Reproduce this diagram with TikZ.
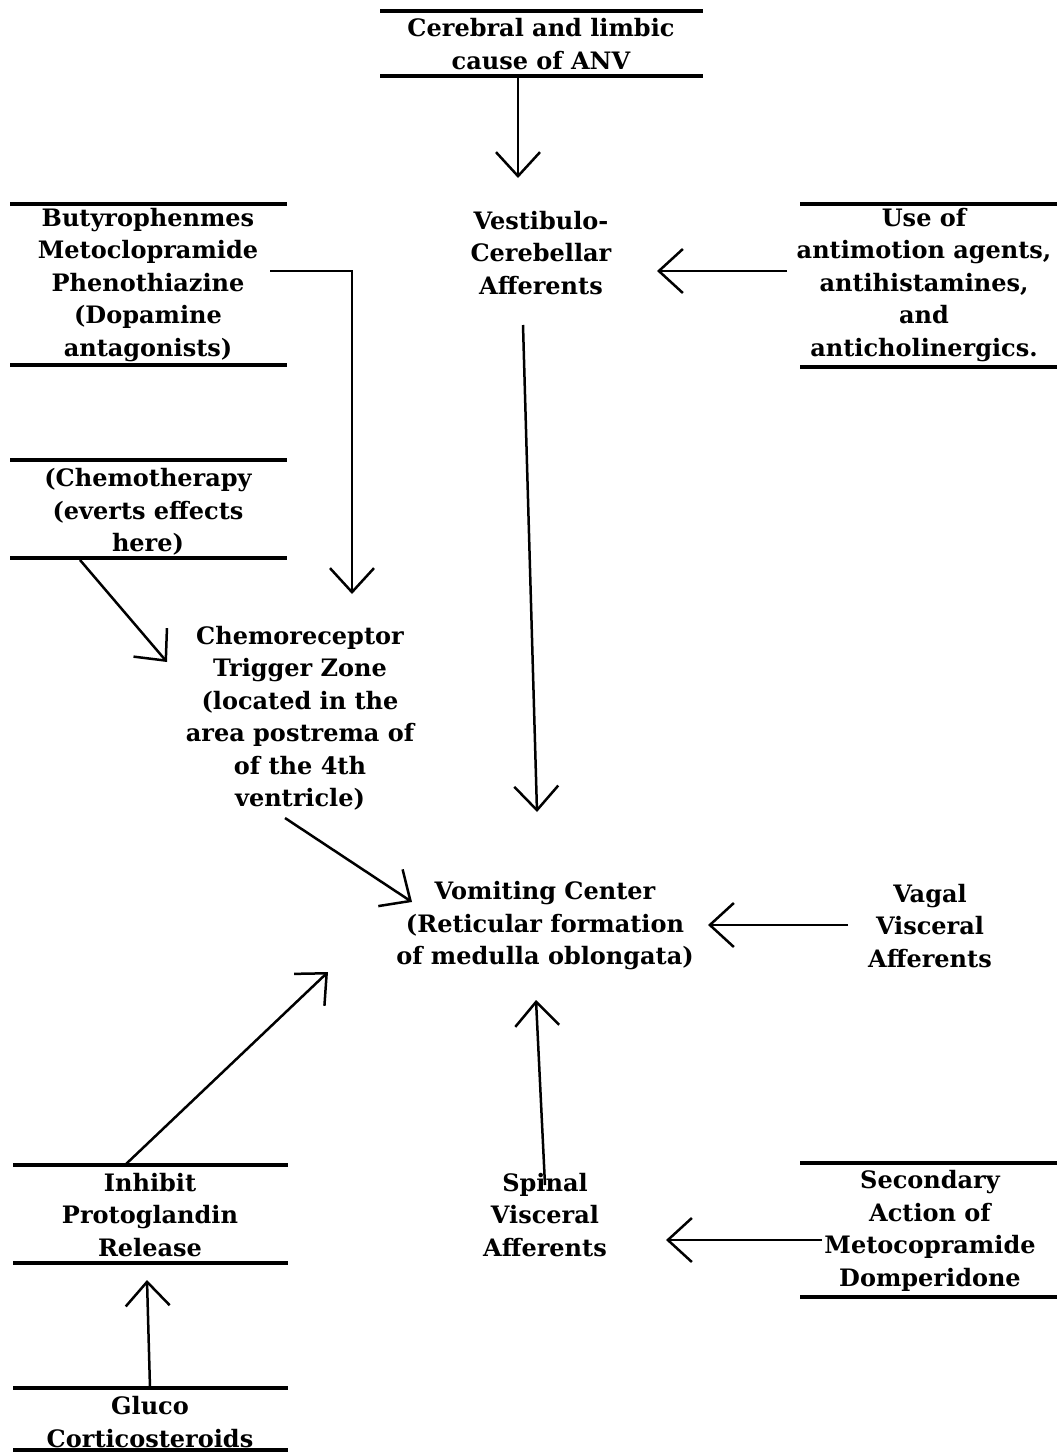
\documentclass[tikz,border=0pt]{standalone}
\usepackage{fontspec}
\setmainfont{DejaVu Serif}
\usetikzlibrary{arrows.meta}
\begin{document}
\begin{tikzpicture}[x=1pt,y=-1pt,
  lbl/.style={align=center, font=\fontsize{24}{32.5}\selectfont\bfseries, inner sep=0pt},
  rule/.style={line width=3.2pt},
  conn/.style={line width=2.5pt, -{Straight Barb[length=24pt,width=44pt,line width=2.5pt]}}]
\useasboundingbox (0,0) rectangle (1057,1453);

% text nodes
\node[lbl] (cer) at (541,44) {Cerebral and limbic\\cause of ANV};
\node[lbl] (vest) at (541,253) {Vestibulo-\\Cerebellar\\Afferents};
\node[lbl] (buty) at (148,285) {Butyrophenmes\\Metoclopramide\\Phenothiazine\\(Dopamine\\antagonists)};
\node[lbl] (chemo) at (148,512) {(Chemotherapy\\(everts effects\\here)};
\node[lbl] (use) at (924,285) {Use of\\antimotion agents,\\antihistamines,\\and\\anticholinergics.};
\node[lbl] (ctz) at (300,718) {Chemoreceptor\\Trigger Zone\\(located in the\\area postrema of\\of the 4th\\ventricle)};
\node[lbl] (vc) at (545,926) {Vomiting Center\\(Reticular formation\\of medulla oblongata)};
\node[lbl] (vagal) at (930,926) {Vagal\\Visceral\\Afferents};
\node[lbl] (inhibit) at (150,1215) {Inhibit\\Protoglandin\\Release};
\node[lbl] (spinal) at (545,1215) {Spinal\\Visceral\\Afferents};
\node[lbl] (secondary) at (930,1231) {Secondary\\Action of\\Metocopramide\\Domperidone};
\node[lbl] (gluco) at (150,1422) {Gluco\\Corticosteroids};

% rules of the boxed items
\draw[rule] (380,11) -- (703,11) (380,76) -- (703,76);
\draw[rule] (10,204) -- (287,204) (10,365) -- (287,365);
\draw[rule] (10,460) -- (287,460) (10,558) -- (287,558);
\draw[rule] (800,204) -- (1057,204) (800,367) -- (1057,367);
\draw[rule] (13,1165) -- (288,1165) (13,1263) -- (288,1263);
\draw[rule] (13,1388) -- (288,1388) (13,1450) -- (288,1450);
\draw[rule] (800,1163) -- (1057,1163) (800,1297) -- (1057,1297);

% connector end points
\coordinate (cerOut) at (518,76);
\coordinate (vestIn) at (518,178);
\coordinate (butyOut) at (270,271);
\coordinate (butyBend) at (352,271);
\coordinate (ctzInA) at (352,594);
\coordinate (chemoOut) at (80,560);
\coordinate (ctzInB) at (167,662);
\coordinate (useOut) at (787,271);
\coordinate (vestInR) at (657,271);
\coordinate (vestOut) at (523,325);
\coordinate (vcInTop) at (537,812);
\coordinate (ctzOut) at (285,818);
\coordinate (vcInTL) at (412,902);
\coordinate (vagalOut) at (848,925);
\coordinate (vcInR) at (708,925);
\coordinate (inhibitOut) at (125,1165);
\coordinate (vcInBL) at (328,972);
\coordinate (spinalOut) at (545,1185);
\coordinate (vcInB) at (536,1000);
\coordinate (glucoOut) at (150,1388);
\coordinate (inhibitIn) at (147,1280);
\coordinate (secOut) at (822,1240);
\coordinate (spinalIn) at (666,1240);

% connectors
\draw[conn] (cerOut) -- (vestIn);
\draw[conn] (butyOut) -- (butyBend) -- (ctzInA);
\draw[conn] (chemoOut) -- (ctzInB);
\draw[conn] (useOut) -- (vestInR);
\draw[conn] (vestOut) -- (vcInTop);
\draw[conn] (ctzOut) -- (vcInTL);
\draw[conn] (vagalOut) -- (vcInR);
\draw[conn] (inhibitOut) -- (vcInBL);
\draw[conn] (spinalOut) -- (vcInB);
\draw[conn] (glucoOut) -- (inhibitIn);
\draw[conn] (secOut) -- (spinalIn);
\end{tikzpicture}
\end{document}
